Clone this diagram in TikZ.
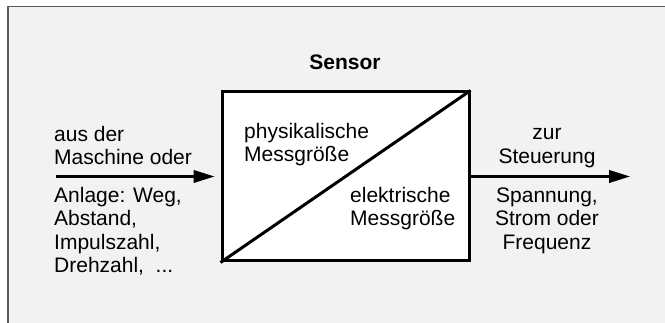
\documentclass[tikz,border=0pt]{standalone}
\usepackage{fontspec}
\setmainfont{Liberation Sans}
\usetikzlibrary{arrows.meta}
\definecolor{panel}{HTML}{F2F2F2}
\definecolor{frameline}{HTML}{5A5A5A}
\begin{document}
\begin{tikzpicture}[x=1pt,y=1pt,
  txt/.style={inner sep=0pt, font=\fontsize{21}{23.2}\selectfont},
  flow/.style={line width=2.3pt, -{Triangle[length=21pt,width=12.5pt]}},
  sensorbox/.style={draw, fill=white, line width=3pt, minimum width=247pt, minimum height=169pt, inner sep=0pt}]
\useasboundingbox (0,0) rectangle (665,323);
\fill[white] (0,0) rectangle (665,323);
\fill[panel] (8.3,0) rectangle (665,316.5);
\draw[frameline, line width=1.8pt] (8.3,0) -- (8.3,316.5) -- (665,316.5);

\node[sensorbox] (sensor) at (345.5,146.5) {};
\draw[line width=3pt] (sensor.south west) -- (sensor.north east);

\node[txt, font=\fontsize{21}{23.2}\selectfont\bfseries, anchor=base] (title) at (345,253.7) {Sensor};

\node[txt, anchor=base west] (phys) at (244,184.7)
  {\begin{tabular}[t]{@{}l@{}}physikalische\\Messgröße\end{tabular}};
\node[txt, anchor=base west] (elek) at (350,120.3)
  {\begin{tabular}[t]{@{}l@{}}elektrische\\Messgröße\end{tabular}};

\coordinate (in) at (56,146.5);
\coordinate (out) at (630,146.5);
\draw[flow, shorten >=6pt] (in) -- (sensor.west);
\draw[flow] (sensor.east) -- (out);

\node[txt, anchor=base west] (inabove) at (54,181.5)
  {\begin{tabular}[t]{@{}l@{}}aus der\\Maschine oder\end{tabular}};
\node[txt, anchor=base west] (inbelow) at (54,120.3)
  {\begin{tabular}[t]{@{}l@{}}Anlage: Weg,\\Abstand,\\Impulszahl,\\Drehzahl,\ \ ...\end{tabular}};

\node[txt, anchor=base] (outabove) at (547,183)
  {\begin{tabular}[t]{@{}c@{}}zur\\Steuerung\end{tabular}};
\node[txt, anchor=base] (outbelow) at (547,120.3)
  {\begin{tabular}[t]{@{}c@{}}Spannung,\\Strom oder\\Frequenz\end{tabular}};
\end{tikzpicture}
\end{document}
